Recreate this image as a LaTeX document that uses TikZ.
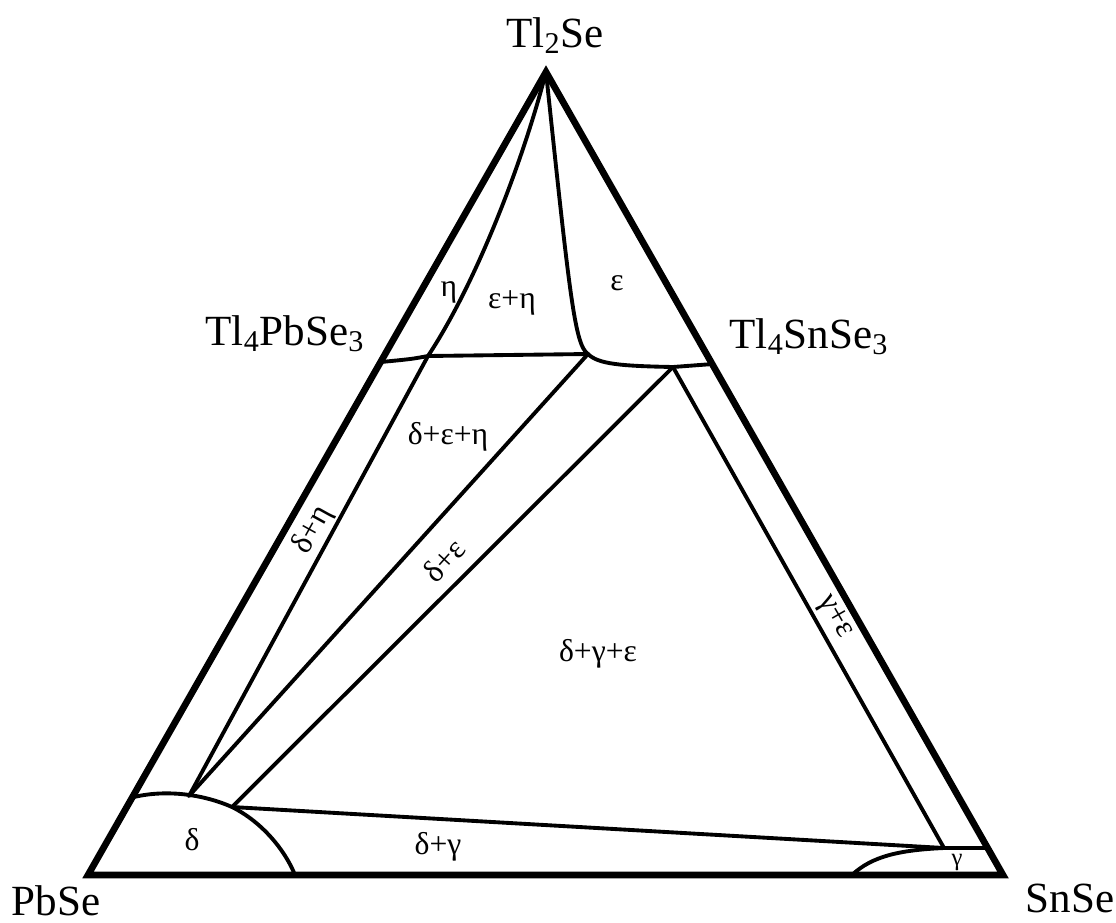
\documentclass[tikz,border=0pt]{standalone}
\usepackage{fontspec}
\setmainfont{Liberation Serif}
\usepackage{tikz}
\usetikzlibrary{calc}

\begin{document}
\begin{tikzpicture}[
    x=0.02cm, y=-0.02cm,
    frame/.style={line width=3.8pt, line join=miter},
    phaseline/.style={line width=2.2pt, line join=round, line cap=round},
    compound/.style={font=\fontsize{24.5}{26}\selectfont, inner sep=0pt, anchor=base},
    region/.style={font=\fontsize{18}{20}\selectfont, inner sep=0pt},
]
\useasboundingbox (0,0) rectangle (1116,923);

% ============================================================
% CORNERS AND JUNCTIONS
% ============================================================
\coordinate (tlse)  at (546,72);
\coordinate (pbse)  at (88,875);
\coordinate (snse)  at (1003,875);
\coordinate (tlpb)  at (381,362);
\coordinate (tlsn)  at (713,364);
\coordinate (jeta)  at (428,356);
\coordinate (jeps)  at (588,354);
\coordinate (jtri)  at (673,367);
\coordinate (dtop)  at (189,796);
\coordinate (djoin) at (232,807);
\coordinate (dleft) at (134,797);
\coordinate (dfoot) at (295,875);
\coordinate (gjoin) at (944,848);
\coordinate (gside) at (988,848);
\coordinate (gfoot) at (852,875);

% ============================================================
% TRIANGLE
% ============================================================
\draw[frame] (pbse) -- (tlse) -- (snse) -- cycle;

% ============================================================
% PHASE BOUNDARIES
% ============================================================
% upper part: eta / eps+eta / eps
\draw[phaseline] (tlse) .. controls (522,165) and (475,285) .. (jeta);
\draw[phaseline] (tlse) .. controls (570,300) and (575,345) .. (jeps);
\draw[phaseline] (tlpb) .. controls (412,359) .. (jeta) -- (jeps);
\draw[phaseline] (jeps) .. controls (598,364) and (620,366) .. (jtri) -- (tlsn);

% tie lines down to the delta field
\draw[phaseline] (jeta) -- (dtop);
\draw[phaseline] (jeps) -- (dtop);
\draw[phaseline] (jtri) -- (djoin);
\draw[phaseline] (jtri) -- (gjoin);
\draw[phaseline] (djoin) -- (gjoin) -- (gside);

% delta dome
\draw[phaseline] (dleft) .. controls (168,789) and (205,795) .. (djoin)
    .. controls (262,822) and (285,850) .. (dfoot);

% gamma field
\draw[phaseline] (gfoot) .. controls (872,856) and (900,850) .. (gjoin);

% ============================================================
% COMPOUNDS
% ============================================================
\node[compound] (lbltlse) at (555,47)  {Tl\textsubscript{2}Se};
\node[compound] (lbltlpb) at (285,345) {Tl\textsubscript{4}PbSe\textsubscript{3}};
\node[compound] (lbltlsn) at (809,348) {Tl\textsubscript{4}SnSe\textsubscript{3}};
\node[compound] (lblpbse) at (56,915)  {PbSe};
\node[compound] (lblsnse) at (1070,912) {SnSe};

% ============================================================
% PHASE FIELDS
% ============================================================
\node[region] (feta)    at (449,292) {η};
\node[region] (fepseta) at (512,303) {ε+η};
\node[region] (feps)    at (617,283) {ε};
\node[region] (fdee)    at (448,437) {δ+ε+η};
\node[region, rotate=61] (fdeta) at (313,530) {δ+η};
\node[region, rotate=48] (fdeps) at (444,560) {δ+ε};
\node[region] (fdge)    at (598,654) {δ+γ+ε};
\node[region, rotate=-60] (fge) at (835,617) {γ+ε};
\node[region] (fd)      at (192,840) {δ};
\node[region] (fdg)     at (438,847) {δ+γ};
\node[region, font=\fontsize{14}{16}\selectfont] (fg) at (957,862) {γ};

\end{tikzpicture}
\end{document}
